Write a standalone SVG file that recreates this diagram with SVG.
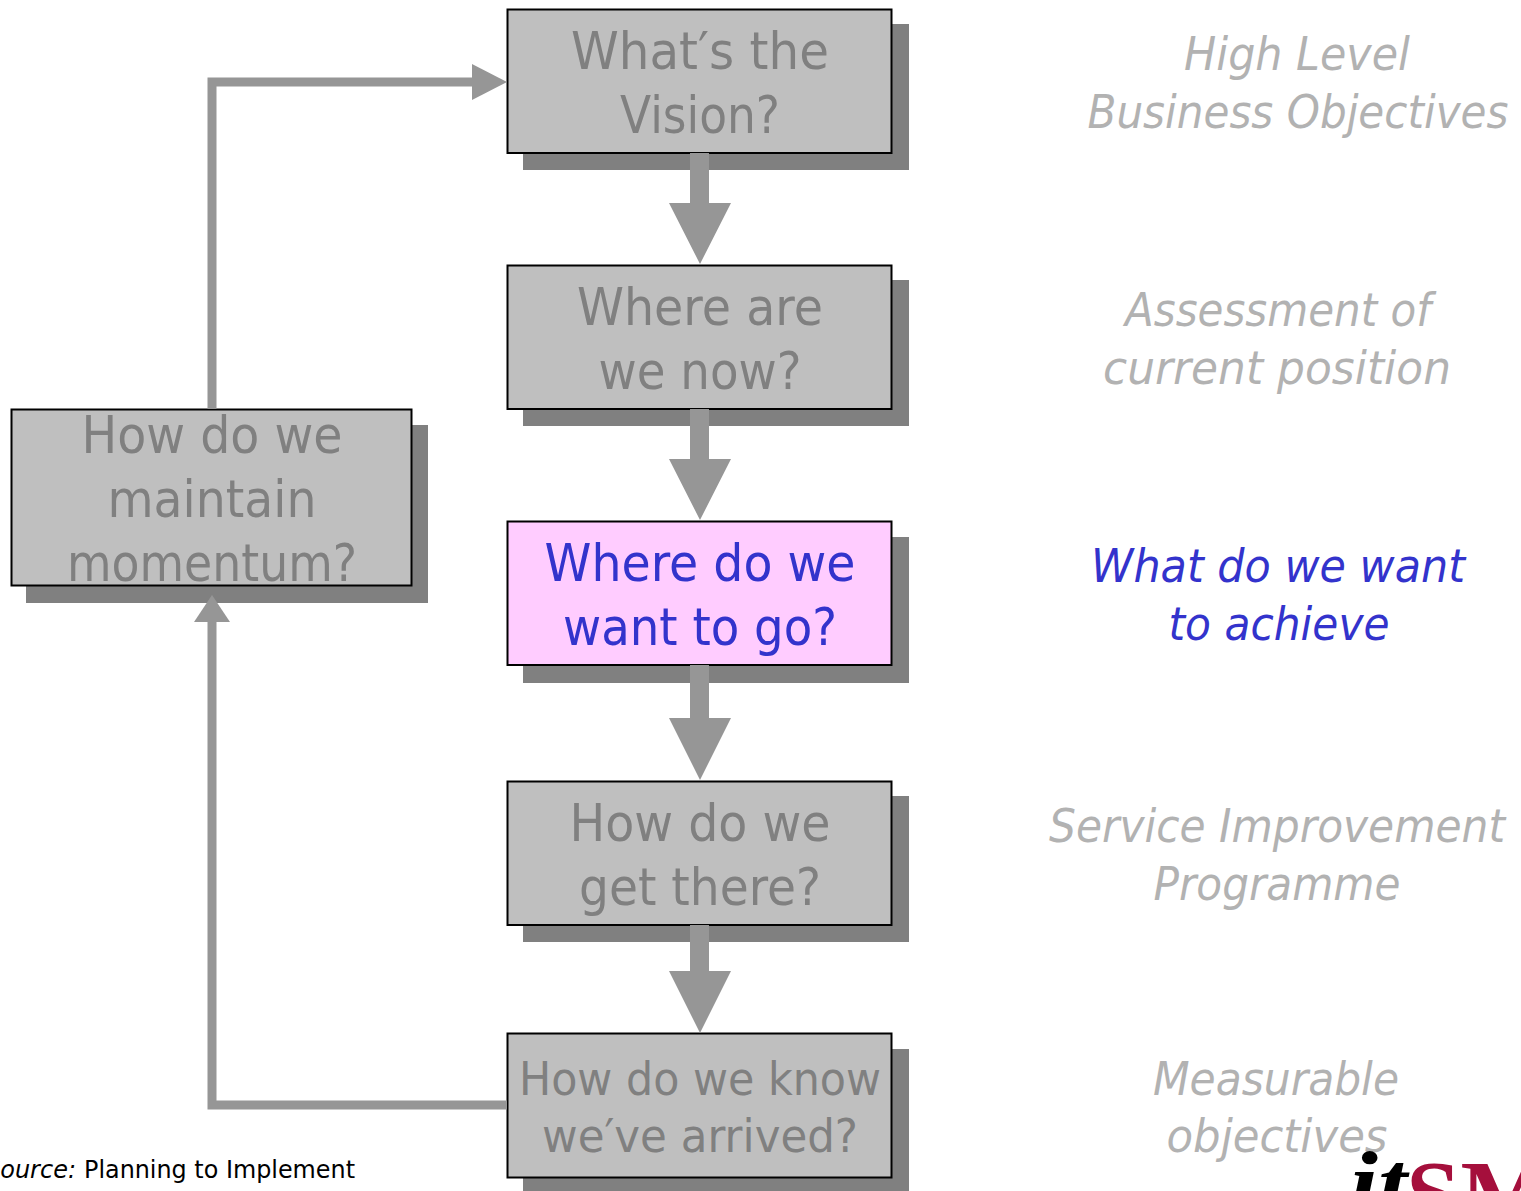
<svg xmlns="http://www.w3.org/2000/svg" width="1521" height="1191" viewBox="0 0 1521 1191">
<style>
.s{fill:#808080}
.b{fill:#bfbfbf;stroke:#000;stroke-width:2}
.p{fill:#ffccff;stroke:#000;stroke-width:2}
.t{font-family:"DejaVu Sans","Noto Sans",sans-serif;font-size:52px;fill:#808080;text-anchor:middle}
.r{font-family:"DejaVu Sans","Noto Sans",sans-serif;font-size:46px;font-style:italic;fill:#b2b2b2;text-anchor:middle}
.h{fill:#3333cc}
.k{font-size:46px}
.a{fill:#969696}
.l{fill:none;stroke:#969696;stroke-width:9}
.c{font-family:"DejaVu Sans","Noto Sans",sans-serif;font-size:25px;fill:#000}
.m{font-family:"Liberation Serif",serif;font-weight:bold}
</style>
<g id="n1"><rect class="s" x="523" y="24" width="386" height="146"/><rect class="b" x="507.5" y="9.5" width="384" height="143.500"/><text class="t" x="700" y="69" textLength="258" lengthAdjust="spacingAndGlyphs">What′s the</text><text class="t" x="700" y="133" textLength="160" lengthAdjust="spacingAndGlyphs">Vision?</text></g>
<g id="n2"><rect class="s" x="523" y="280" width="386" height="146"/><rect class="b" x="507.5" y="265.500" width="384" height="143.500"/><text class="t" x="700" y="325" textLength="246" lengthAdjust="spacingAndGlyphs">Where are</text><text class="t" x="700" y="389" textLength="203" lengthAdjust="spacingAndGlyphs">we now?</text></g>
<g id="n3"><rect class="s" x="523" y="537" width="386" height="146"/><rect class="p" x="507.5" y="521.500" width="384" height="143.500"/><text class="t h" x="700" y="581" textLength="311" lengthAdjust="spacingAndGlyphs">Where do we</text><text class="t h" x="700" y="645" textLength="274" lengthAdjust="spacingAndGlyphs">want to go?</text></g>
<g id="n4"><rect class="s" x="523" y="796" width="386" height="146"/><rect class="b" x="507.5" y="781.500" width="384" height="143.500"/><text class="t" x="700" y="841" textLength="261" lengthAdjust="spacingAndGlyphs">How do we</text><text class="t" x="700" y="905" textLength="242" lengthAdjust="spacingAndGlyphs">get there?</text></g>
<g id="n5"><rect class="s" x="523" y="1049" width="386" height="146"/><rect class="b" x="507.5" y="1033.500" width="384" height="144"/><text class="t k" x="700" y="1095" textLength="362" lengthAdjust="spacingAndGlyphs">How do we know</text><text class="t k" x="700" y="1152" textLength="316" lengthAdjust="spacingAndGlyphs">we′ve arrived?</text></g>
<g id="n6"><rect class="s" x="26" y="425" width="402" height="178"/><rect class="b" x="11.500" y="409.500" width="400" height="176"/><text class="t" x="212" y="453" textLength="261" lengthAdjust="spacingAndGlyphs">How do we</text><text class="t" x="212" y="517" textLength="209" lengthAdjust="spacingAndGlyphs">maintain</text><text class="t" x="212" y="581" textLength="290" lengthAdjust="spacingAndGlyphs">momentum?</text></g>
<g id="connectors">
<path class="a" d="M690 153h19v50h22l-31 61-31-61h21z"/>
<path class="a" d="M690 409h19v50h22l-31 61-31-61h21z"/>
<path class="a" d="M690 665h19v53h22l-31 62-31-62h21z"/>
<path class="a" d="M690 925h19v46h22l-31 62-31-62h21z"/>
<path class="l" d="M212 409V82H475"/>
<path class="a" d="M472 64l35 18-35 18z"/>
<path class="l" d="M507 1105H212V620"/>
<path class="a" d="M194 622l18-27 18 27z"/>
</g>
<g id="notes">
<text class="r" x="1297" y="70" textLength="226" lengthAdjust="spacingAndGlyphs">High Level</text>
<text class="r" x="1298" y="128" textLength="421" lengthAdjust="spacingAndGlyphs">Business Objectives</text>
<text class="r" x="1278" y="326" textLength="306" lengthAdjust="spacingAndGlyphs">Assessment of</text>
<text class="r" x="1277" y="384" textLength="348" lengthAdjust="spacingAndGlyphs">current position</text>
<text class="r h" x="1278" y="582" textLength="374" lengthAdjust="spacingAndGlyphs">What do we want</text>
<text class="r h" x="1279" y="640" textLength="221" lengthAdjust="spacingAndGlyphs">to achieve</text>
<text class="r" x="1277" y="842" textLength="456" lengthAdjust="spacingAndGlyphs">Service Improvement</text>
<text class="r" x="1277" y="900" textLength="247" lengthAdjust="spacingAndGlyphs">Programme</text>
<text class="r" x="1276" y="1095" textLength="246" lengthAdjust="spacingAndGlyphs">Measurable</text>
<text class="r" x="1277" y="1152" textLength="221" lengthAdjust="spacingAndGlyphs">objectives</text>
</g>
<g id="source">
<text class="c" x="-15" y="1178" font-style="italic" textLength="91" lengthAdjust="spacingAndGlyphs">Source:</text>
<text class="c" x="84" y="1178" textLength="271" lengthAdjust="spacingAndGlyphs">Planning to Implement</text>
</g>
<g id="logo">
<text class="m" x="1349" y="1213" font-size="88" font-style="italic" fill="#000" textLength="58" lengthAdjust="spacingAndGlyphs">it</text>
<text class="m" x="1406" y="1228" font-size="98" fill="#a50f3c">SM</text>
</g>
</svg>
